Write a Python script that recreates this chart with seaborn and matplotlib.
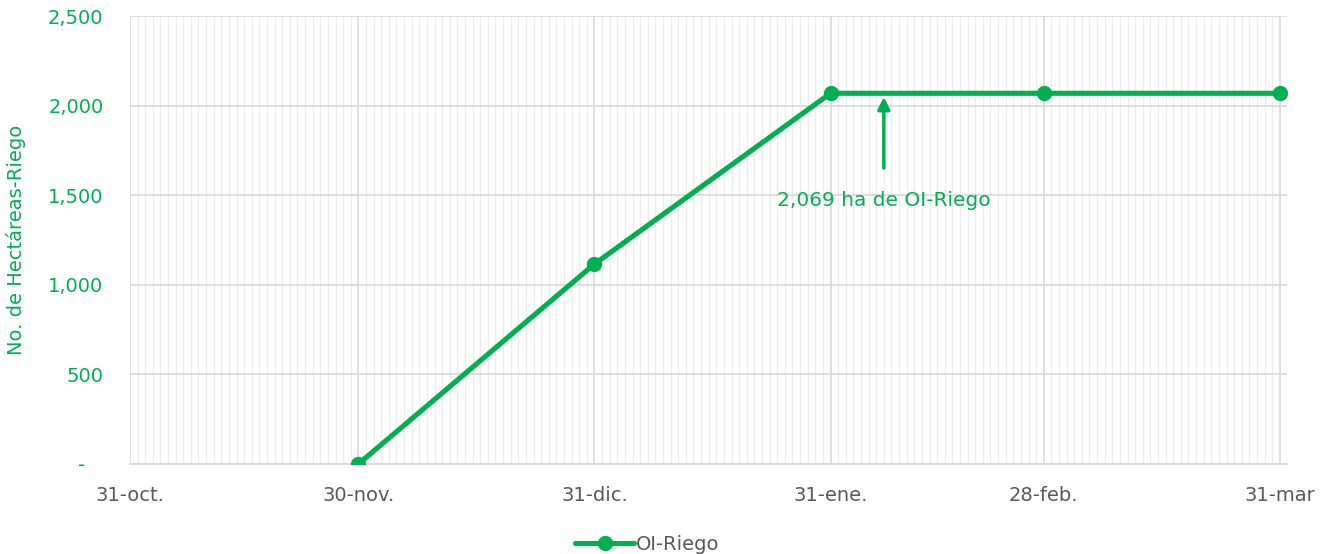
import pandas as pd
import matplotlib.pyplot as plt
import matplotlib.dates as mdates
import seaborn as sns

# datos
fechas = ["2022-11-30", "2022-12-31", "2023-01-31", "2023-02-28", "2023-03-31"]
hectareas = [0, 1116, 2069, 2069, 2069]
etiquetas_x = ["31-oct.", "30-nov.", "31-dic.", "31-ene.", "28-feb.", "31-mar"]
fechas_x = ["2022-10-31", "2022-11-30", "2022-12-31", "2023-01-31", "2023-02-28", "2023-03-31"]
etiquetas_y = ["-   ", "500", "1,000", "1,500", "2,000", "2,500"]
valores_y = [0, 500, 1000, 1500, 2000, 2500]
nota = "2,069 ha de OI-Riego"
fecha_nota = "2023-02-07"

VERDE = "#00B050"
GRIS = "#595959"

sns.set_style("white")
plt.rcParams["font.family"] = ["DejaVu Sans"]

df = pd.DataFrame({"fecha": pd.to_datetime(fechas), "ha": hectareas, "serie": "OI-Riego"})

fig = plt.figure(figsize=(13.3, 5.54), dpi=100)
ax = fig.add_axes([0.0977, 0.1625, 0.8703, 0.8085])

sns.lineplot(data=df, x="fecha", y="ha", hue="serie", palette=[VERDE], marker="o",
             markersize=11, markeredgewidth=0, linewidth=3.7, ax=ax, zorder=5)

ax.set_xlim(pd.Timestamp("2022-10-31"), pd.Timestamp("2023-04-01"))
ax.set_ylim(0, 2500)

# rejilla diaria y principal
ax.xaxis.set_minor_locator(mdates.DayLocator())
ax.set_xticks(pd.to_datetime(fechas_x))
ax.set_xticklabels(etiquetas_x)
ax.set_yticks(valores_y)
ax.set_yticklabels(etiquetas_y)
ax.grid(which="minor", axis="x", color="#EDEDED", linewidth=0.9)
ax.grid(which="major", axis="x", color="#D9D9D9", linewidth=1.2)
ax.grid(which="major", axis="y", color="#D9D9D9", linewidth=1.2)
ax.set_axisbelow(True)

for s in ["top", "right", "left"]:
    ax.spines[s].set_visible(False)
ax.spines["bottom"].set_color("#D9D9D9")
ax.spines["bottom"].set_linewidth(1.2)

ax.tick_params(axis="x", which="major", length=6, color="#D9D9D9", colors=GRIS,
               labelsize=14, pad=10)
ax.tick_params(axis="x", which="minor", length=0)
ax.tick_params(axis="y", length=0, labelcolor=VERDE, labelsize=14, pad=19)

ax.set_xlabel("")
ax.set_ylabel("No. de Hectáreas-Riego", color=VERDE, fontsize=14, labelpad=16)

ax.annotate(nota, xy=(pd.Timestamp(fecha_nota), 2069 - 20),
            xytext=(pd.Timestamp(fecha_nota), 1525),
            ha="center", va="top", color=VERDE, fontsize=14.5,
            arrowprops=dict(arrowstyle="-|>", color=VERDE, lw=2.5, mutation_scale=18,
                            shrinkA=14, shrinkB=0))

leg = ax.legend(loc="upper center", bbox_to_anchor=(0.447, -0.12), frameon=False,
                fontsize=14, handlelength=3, handletextpad=0.1)
for t in leg.get_texts():
    t.set_color(GRIS)

fig.savefig("out.png", dpi=100)
